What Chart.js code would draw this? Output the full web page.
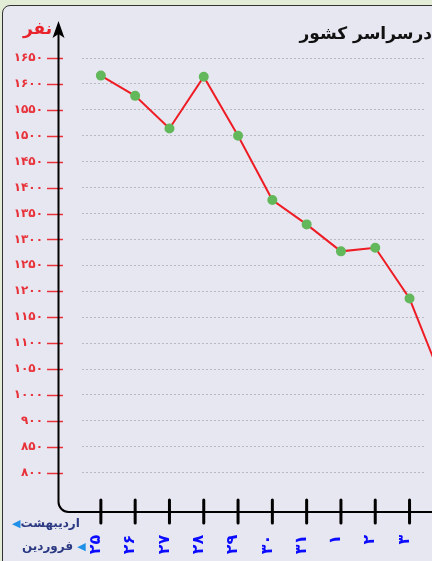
<!DOCTYPE html>
<html lang="fa">
<head>
<meta charset="utf-8">
<script src="https://cdn.jsdelivr.net/npm/chart.js@4"></script>
<style>
    html, body { margin: 0; padding: 0; }
    body { width: 432px; height: 561px; overflow: hidden; background: #e2ecd6; position: relative; font-family: "DejaVu Sans", sans-serif; }
    .frame { position: absolute; left: 2px; top: 5px; width: 460px; height: 600px; background: #e7e7f1; border: 1.5px solid #333; border-radius: 8px; }
    .wrap { position: absolute; left: 0; top: 0; width: 432px; height: 561px; }
    .title { position: absolute; right: 0; top: 23px; font-weight: bold; font-size: 17px; color: #111; direction: rtl; white-space: nowrap; }
    .unit { position: absolute; left: 23px; top: 18px; font-weight: bold; font-size: 17px; color: #e8232b; direction: rtl; }
    .month { position: absolute; font-weight: bold; font-size: 12px; color: #2b3a82; direction: rtl; white-space: nowrap; }
    .month span { color: #1e90e8; font-size: 11px; }
</style>
</head>
<body>
<div class="frame"></div>
<div class="wrap"><canvas id="deathChart"></canvas></div>
<div class="title">درسراسر کشور</div>
<div class="unit">نفر</div>
<div class="month" style="left: 12px; top: 516px;">اردیبهشت<span>◀</span></div>
<div class="month" style="left: 22px; top: 539px;"><span>◀</span> فروردین</div>
<script>
// days (farvardin 25..31, then ordibehesht 1..)
const days = ['۲۵', '۲۶', '۲۷', '۲۸', '۲۹', '۳۰', '۳۱', '۱', '۲', '۳', '۴'];
const deaths = [1616, 1577, 1514, 1614, 1500, 1376, 1329, 1277, 1284, 1186, 1020];
// labels as printed on the original axis, top to bottom
const yTickLabels = ['۱۶۵۰', '۱۶۰۰', '۱۵۵۰', '۱۵۰۰', '۱۴۵۰', '۱۴۰۰', '۱۳۵۰', '۱۳۰۰', '۱۲۵۰',
    '۱۲۰۰', '۱۱۵۰', '۱۱۰۰', '۱۰۵۰', '۱۰۰۰', '۹۰۰', '۸۵۰', '۸۰۰'];

const axisDeco = {
    id: 'axisDeco',
    afterDraw(chart) {
        const ctx = chart.ctx;
        const x = chart.scales.x;
        const y = chart.scales.y;
        const ax = 58.5, ay = 512;
        ctx.save();

        // red tick marks on y axis
        ctx.strokeStyle = '#e8323a';
        ctx.lineWidth = 1.5;
        y.ticks.forEach(t => {
            const py = Math.round(y.getPixelForValue(t.value)) + 0.5;
            ctx.beginPath();
            ctx.moveTo(47, py);
            ctx.lineTo(63, py);
            ctx.stroke();
        });

        // axis lines with rounded corner
        ctx.strokeStyle = '#000';
        ctx.lineWidth = 2;
        ctx.beginPath();
        ctx.moveTo(ax, 34);
        ctx.lineTo(ax, ay - 10);
        ctx.arcTo(ax, ay, ax + 10, ay, 10);
        ctx.lineTo(chart.width, ay);
        ctx.stroke();

        // arrow head
        ctx.fillStyle = '#000';
        ctx.beginPath();
        ctx.moveTo(ax, 21);
        ctx.lineTo(ax - 6, 38);
        ctx.lineTo(ax, 34);
        ctx.lineTo(ax + 6, 38);
        ctx.closePath();
        ctx.fill();

        // x tick marks crossing the axis
        ctx.lineWidth = 3;
        ctx.lineCap = 'round';
        x.ticks.forEach(t => {
            const px = x.getPixelForValue(t.value);
            ctx.beginPath();
            ctx.moveTo(px, 500);
            ctx.lineTo(px, 523);
            ctx.stroke();
        });
        ctx.restore();
    }
};

new Chart(document.getElementById('deathChart'), {
    type: 'line',
    data: {
        datasets: [{
            data: deaths.map((v, i) => ({ x: i, y: v })),
            borderColor: '#ee1d25',
            borderWidth: 2,
            pointBackgroundColor: '#62b85a',
            pointBorderColor: '#62b85a',
            pointRadius: 4,
            tension: 0,
            clip: false
        }]
    },
    options: {
        responsive: true,
        maintainAspectRatio: false,
        animation: false,
        layout: { padding: { top: 58, left: 0, right: 0, bottom: 0 } },
        plugins: {
            legend: { display: false },
            tooltip: { enabled: false }
        },
        scales: {
            x: {
                type: 'linear',
                min: -0.55,
                max: 9.48,
                afterBuildTicks: s => {
                    s.ticks = days.map((d, i) => ({ value: i })).filter(t => t.value <= s.max);
                },
                afterFit: s => {
                    s.height = 88.3;
                    s.paddingLeft = 0;
                    s.paddingRight = 0;
                },
                grid: { display: false, drawTicks: false },
                border: { display: false },
                ticks: {
                    autoSkip: false,
                    minRotation: 90,
                    maxRotation: 90,
                    padding: 62,
                    labelOffset: -5,
                    color: '#0b0bff',
                    font: { family: 'DejaVu Sans', size: 16, weight: 'bold' },
                    callback: v => days[v]
                }
            },
            y: {
                min: 850,
                max: 1650,
                afterFit: s => { s.width = 82; },
                grid: { color: '#b9b9c2', drawTicks: false, lineWidth: 1 },
                border: { display: false, dash: [2, 2] },
                ticks: {
                    stepSize: 50,
                    autoSkip: false,
                    padding: 39,
                    color: '#e8323a',
                    font: { family: 'DejaVu Sans', size: 12, weight: 'bold' },
                    callback: v => yTickLabels[Math.round((1650 - v) / 50)]
                }
            }
        }
    },
    plugins: [axisDeco]
});
</script>
</body>
</html>
